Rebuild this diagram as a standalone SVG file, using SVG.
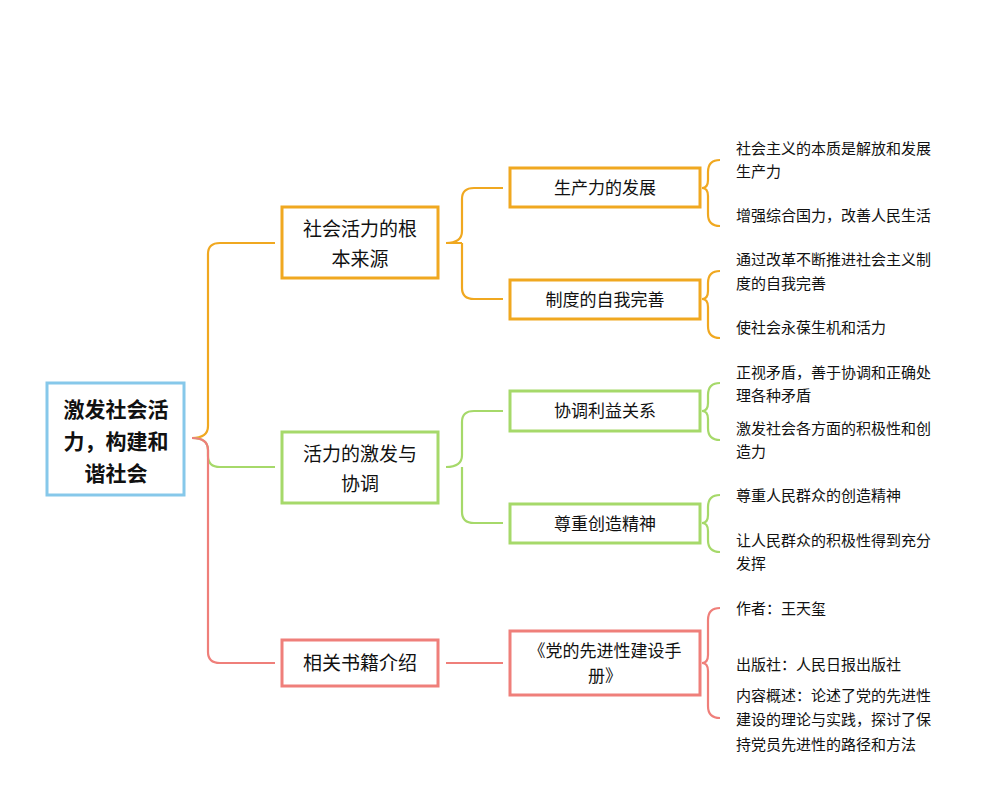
<svg xmlns="http://www.w3.org/2000/svg" width="1000" height="800" viewBox="0 0 1000 800">
<style>
text{font-family:"Liberation Serif","Noto Sans CJK SC",serif;fill:#111}
.root{font-size:21px;font-weight:bold;text-anchor:middle}
.l1{font-size:19px;text-anchor:middle}
.l2{font-size:17px;text-anchor:middle}
.lf{font-size:15px}
.box{fill:#fff;stroke-width:3}
.ln{fill:none;stroke-width:2.2}
.o{stroke:#f0a820}.g{stroke:#a6d96a}.p{stroke:#ef7f7a}
</style>
<rect width="1000" height="800" fill="#fff"/>
<g id="connectors">
<path class="ln o" d="M192,438 Q208,438 208,426 L208,254 Q208,243 220,243 L275,243"/>
<path class="ln g" d="M192,438 Q208,438 208,450 L208,456 Q208,467 220,467 L275,467"/>
<path class="ln p" d="M192,438 Q208,438 208,450 L208,652 Q208,663 220,663 L275,663"/>
<path class="ln o" d="M446,243 Q462,243 462,231 L462,199 Q462,188 474,188 L503,188 M462,243 Q462,243 462,255 L462,288 Q462,299 474,299 L503,299 M446,243 L462,243"/>
<path class="ln g" d="M446,467 Q462,467 462,455 L462,422 Q462,411 474,411 L503,411 M462,467 L462,512 Q462,523 474,523 L503,523"/>
<path class="ln p" d="M446,663 L503,663"/>
<path class="ln o" d="M720,160 Q708,160 708,172 L708,180 Q708,188 702,188 Q708,188 708,196 L708,214 Q708,226 720,226"/>
<path class="ln o" d="M720,271 Q708,271 708,283 L708,291 Q708,299 702,299 Q708,299 708,307 L708,326 Q708,338 720,338"/>
<path class="ln g" d="M720,383 Q708,383 708,395 L708,403 Q708,411 702,411 Q708,411 708,419 L708,428 Q708,440 720,440"/>
<path class="ln g" d="M720,495 Q708,495 708,507 L708,515 Q708,523 702,523 Q708,523 708,531 L708,540 Q708,552 720,552"/>
<path class="ln p" d="M720,608 Q708,608 708,620 L708,655 Q708,663 702,663 Q708,663 708,671 L708,706 Q708,718 720,718"/>
</g>
<g id="root"><rect class="box" x="47" y="383" width="137" height="112" stroke="#86c8ea" stroke-width="4"/>
<text class="root" x="116" y="417">激发社会活</text><text class="root" x="116" y="449">力，构建和</text><text class="root" x="116" y="481">谐社会</text></g>
<g id="n1"><rect class="box o" x="282" y="207" width="156" height="71"/><text class="l1" x="360" y="236">社会活力的根</text><text class="l1" x="360" y="266">本来源</text></g>
<g id="n2"><rect class="box g" x="282" y="432" width="156" height="71"/><text class="l1" x="360" y="461">活力的激发与</text><text class="l1" x="360" y="491">协调</text></g>
<g id="n3"><rect class="box p" x="282" y="640" width="156" height="46"/><text class="l1" x="360" y="670">相关书籍介绍</text></g>
<g id="n11"><rect class="box o" x="510" y="168" width="190" height="39" stroke-width="2"/><text class="l2" x="605" y="194">生产力的发展</text></g>
<g id="n12"><rect class="box o" x="510" y="280" width="190" height="39" stroke-width="2"/><text class="l2" x="605" y="306">制度的自我完善</text></g>
<g id="n21"><rect class="box g" x="510" y="391" width="190" height="40" stroke-width="2"/><text class="l2" x="605" y="417">协调利益关系</text></g>
<g id="n22"><rect class="box g" x="510" y="504" width="190" height="39" stroke-width="2"/><text class="l2" x="605" y="530">尊重创造精神</text></g>
<g id="n31"><rect class="box p" x="510" y="631" width="190" height="64" stroke-width="2"/><text class="l2" x="605" y="657">《党的先进性建设手</text><text class="l2" x="605" y="682">册》</text></g>
<g id="leaves">
<text class="lf" x="736" y="154">社会主义的本质是解放和发展</text><text class="lf" x="736" y="177">生产力</text>
<text class="lf" x="736" y="221">增强综合国力，改善人民生活</text>
<text class="lf" x="736" y="265">通过改革不断推进社会主义制</text><text class="lf" x="736" y="289">度的自我完善</text>
<text class="lf" x="736" y="333">使社会永葆生机和活力</text>
<text class="lf" x="736" y="378">正视矛盾，善于协调和正确处</text><text class="lf" x="736" y="401">理各种矛盾</text>
<text class="lf" x="736" y="434">激发社会各方面的积极性和创</text><text class="lf" x="736" y="457">造力</text>
<text class="lf" x="736" y="501">尊重人民群众的创造精神</text>
<text class="lf" x="736" y="546">让人民群众的积极性得到充分</text><text class="lf" x="736" y="569">发挥</text>
<text class="lf" x="736" y="614">作者：王天玺</text>
<text class="lf" x="736" y="670">出版社：人民日报出版社</text>
<text class="lf" x="736" y="701">内容概述：论述了党的先进性</text><text class="lf" x="736" y="725">建设的理论与实践，探讨了保</text><text class="lf" x="736" y="750">持党员先进性的路径和方法</text>
</g>
</svg>
